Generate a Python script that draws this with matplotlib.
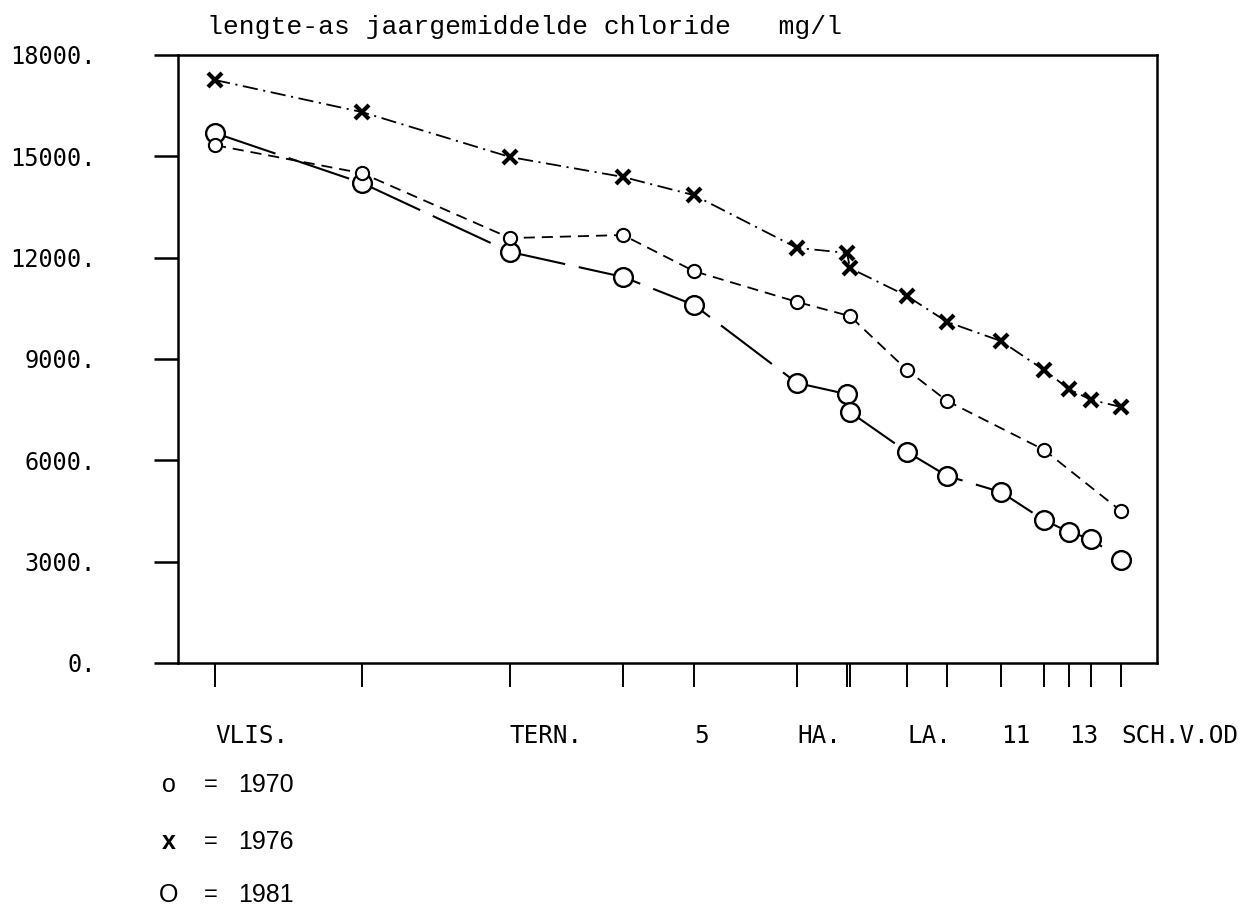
import numpy as np
import matplotlib
matplotlib.use("Agg")
import matplotlib.pyplot as plt

plt.rcParams["lines.scale_dashes"] = False

# station positions along the estuary (arbitrary distance units)
afstand = [3.7, 18.4, 33.2, 44.5, 51.6, 61.9, 66.9, 67.2, 72.9, 76.9,
           82.3, 86.6, 89.1, 91.3, 94.3]
station_labels = ["VLIS.", "", "TERN.", "", "5", "HA.", "", "", "LA.", "",
                  "11", "", "13", "", "SCH.V.OD"]

idx_1970 = [0, 1, 2, 3, 4, 5, 7, 8, 9, 11, 14]
cl_1970 = [15330, 14500, 12580, 12670, 11600, 10690, 10270, 8675, 7760, 6310, 4500]
cl_1976 = [17260, 16310, 14980, 14390, 13850, 12290, 12140, 11690, 10865, 10100,
           9530, 8675, 8110, 7790, 7580]
cl_1981 = [15690, 14210, 12170, 11430, 10600, 8290, 7960, 7430, 6250, 5540,
           5060, 4230, 3880, 3670, 3050]

yticks = [0, 3000, 6000, 9000, 12000, 15000, 18000]

fig = plt.figure(figsize=(12.45, 9.13), dpi=100)
ax = fig.add_axes([178 / 1245, 1 - 663 / 913, (1157 - 178) / 1245, (663 - 55) / 913])

x70 = [afstand[i] for i in idx_1970]
ax.plot(afstand, cl_1981, color="black", lw=1.5, dashes=(46, 10),
        marker="o", ms=13.5, mfc="white", mec="black", mew=1.7, zorder=2)
ax.plot(x70, cl_1970, color="black", lw=1.3, dashes=(8, 5),
        marker="o", ms=9.5, mfc="white", mec="black", mew=1.5, zorder=3)
ax.plot(afstand, cl_1976, color="black", lw=1.3, dashes=(11, 4, 1.5, 4),
        marker="x", ms=10, mec="black", mew=3, zorder=3)

ax.set_xlim(0, 97.9)
ax.set_ylim(0, 18000)

for s in ax.spines.values():
    s.set_linewidth(1.8)

mono = "DejaVu Sans Mono"
ax.set_yticks(yticks)
ax.set_yticklabels([f"{v}." for v in yticks], family=mono, fontsize=17)
ax.tick_params(axis="y", direction="out", length=17, width=1.8, pad=42)

ax.set_xticks(afstand)
ax.set_xticklabels(station_labels, family=mono, fontsize=17.5)
for lab in ax.get_xticklabels():
    lab.set_horizontalalignment("left")
ax.tick_params(axis="x", direction="out", length=17, width=1.4, pad=27)

fig.text(207 / 1245, 1 - 27 / 913, "lengte-as jaargemiddelde chloride   mg/l",
         family="Liberation Mono", fontsize=19, ha="left", va="center")

legend_rows = [("o", "1970", 785, "normal"), ("x", "1976", 842, "bold"),
               ("O", "1981", 895, "normal")]
for sym, year, ypx, wt in legend_rows:
    yf = 1 - ypx / 913
    fig.text(169 / 1245, yf, sym, family="Liberation Sans", fontsize=18,
             fontweight=wt, ha="center", va="center")
    fig.text(211 / 1245, yf, "=", family="Liberation Sans", fontsize=17,
             ha="center", va="center")
    fig.text(238 / 1245, yf, year, family="Liberation Sans", fontsize=18,
             ha="left", va="center")

fig.savefig("out.png", dpi=100)
